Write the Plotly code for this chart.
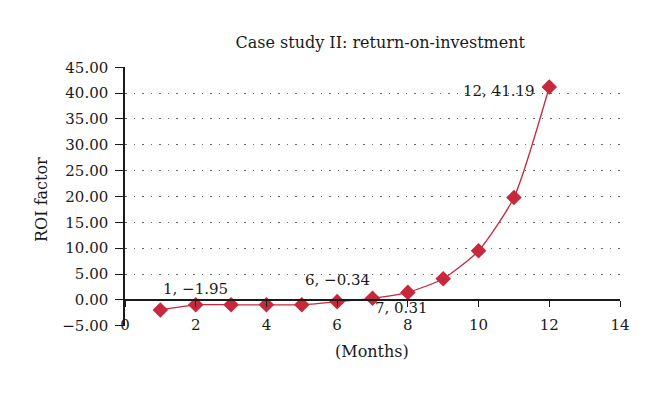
import plotly.graph_objects as go

months = [1, 2, 3, 4, 5, 6, 7, 8, 9, 10, 11, 12]
roi = [-1.95, -0.95, -0.95, -0.95, -0.95, -0.34, 0.31, 1.45, 4.1, 9.5, 19.8, 41.19]
x_ticks = [0, 2, 4, 6, 8, 10, 12, 14]
y_ticks = [-5, 0, 5, 10, 15, 20, 25, 30, 35, 40, 45]
labelled = {1: (35, 21), 6: (0, 22), 7: (28, -10), 12: (-50, -4)}

RED = "#C8283C"
FONT = "DejaVu Serif"
INK = "#1a1a1a"

fig = go.Figure()
fig.add_trace(go.Scatter(
    x=months, y=roi, mode="lines+markers",
    line=dict(color=RED, width=1.3, shape="spline", smoothing=0.6),
    marker=dict(symbol="diamond", size=12, color=RED),
    showlegend=False, xaxis="x", yaxis="y",
))
# invisible trace for the axis line crossing at zero
fig.add_trace(go.Scatter(x=[0, 14], y=[0, 0], mode="lines", line=dict(width=0),
                         showlegend=False, hoverinfo="skip", xaxis="x2", yaxis="y"))

def fmt(v):
    return f"{v:.2f}".replace("-", "\u2212")

for i, m in enumerate(months):
    if m in labelled:
        dx, dy = labelled[m]
        fig.add_annotation(x=m, y=roi[i], text=f"{m}, {fmt(roi[i])}", showarrow=False,
                           xshift=dx, yshift=dy, font=dict(family=FONT, size=15, color=INK))

fig.add_annotation(text="ROI factor", xref="paper", yref="paper", x=-0.170, y=0.49,
                   textangle=-90, showarrow=False, xanchor="center", yanchor="middle",
                   font=dict(family=FONT, size=16, color=INK))
fig.add_annotation(text="(Months)", xref="paper", yref="paper", x=0.499, y=-0.1,
                   showarrow=False, xanchor="center", yanchor="middle",
                   font=dict(family=FONT, size=16, color=INK))

fig.update_layout(
    width=660, height=393,
    margin=dict(l=117, r=48, t=59, b=75),
    paper_bgcolor="white", plot_bgcolor="white",
    font=dict(family=FONT, size=15, color=INK),
    title=dict(text="Case study II: return-on-investment", x=0.564, xanchor="center",
               y=0.913, yanchor="middle", font=dict(family=FONT, size=16, color=INK)),
    xaxis=dict(range=[0, 14], tickvals=x_ticks, ticktext=[str(v) for v in x_ticks],
               showgrid=False, zeroline=False, showline=False, ticks="",
               ticklabelstandoff=-12),
    xaxis2=dict(range=[0, 14], overlaying="x", anchor="free", position=0.1,
                tickvals=x_ticks, showticklabels=False, ticks="outside", ticklen=6,
                tickcolor=INK, showline=True, linecolor=INK, linewidth=1.5,
                showgrid=False, zeroline=False, side="bottom"),
    yaxis=dict(range=[-5.05, 45.05], tickvals=y_ticks, tickformat=".2f",
               showgrid=True, gridcolor="#666", griddash="1.5px,7px", gridwidth=1.3,
               zeroline=False, showline=True, linecolor=INK, linewidth=1.5,
               ticks="outside", ticklen=8, tickcolor=INK, ticklabelstandoff=4),
)

fig.write_html("out.html")
